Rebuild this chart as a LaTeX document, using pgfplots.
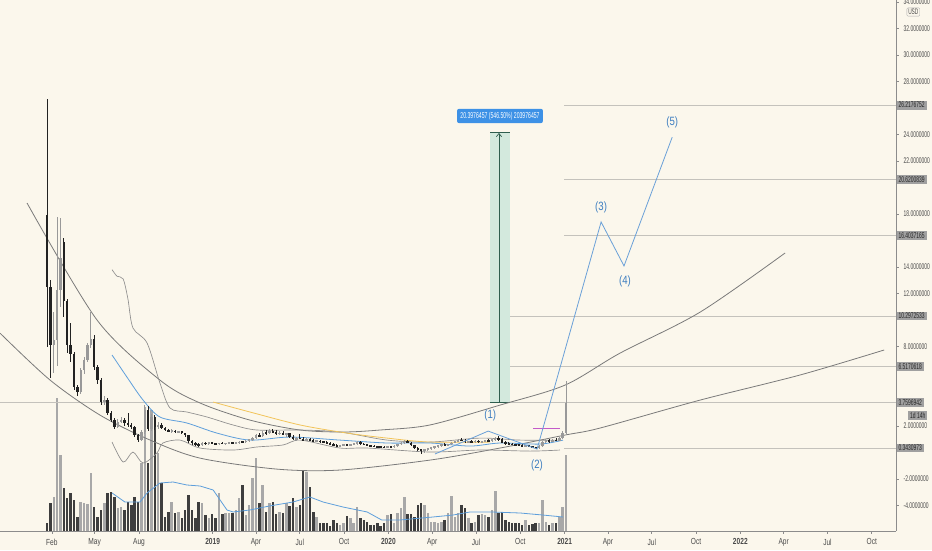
\documentclass[border=0pt]{standalone}
\usepackage{fontspec}
\setmainfont{Liberation Sans}
\newfontfamily\narrow[FakeStretch=0.6]{Liberation Sans}
\newfontfamily\xfont[FakeStretch=0.75]{Liberation Sans}
\newfontfamily\wavefont[FakeStretch=0.8]{Liberation Sans}
\usepackage{pgfplots}
\pgfplotsset{compat=1.18}
\usepackage{pgfplotstable}
\usetikzlibrary{backgrounds,calc,arrows.meta}

\definecolor{bg}{HTML}{FBF7EC}
\definecolor{axisgray}{HTML}{8C8C8C}
\definecolor{ticktext}{HTML}{4A4A4A}
\definecolor{levelline}{HTML}{C4C2BC}
\definecolor{upc}{HTML}{999999}
\definecolor{dnc}{HTML}{222222}
\definecolor{upv}{HTML}{A8A8A8}
\definecolor{dnv}{HTML}{3E3E3E}
\definecolor{arc}{HTML}{7A7A7A}
\definecolor{band}{HTML}{8E8E8E}
\definecolor{mablue}{HTML}{5E9FDB}
\definecolor{maorange}{HTML}{F2C45A}
\definecolor{wave}{HTML}{6AA0D8}
\definecolor{wavetext}{HTML}{3C7DC0}
\definecolor{boxgreen}{HTML}{CFE8DC}
\definecolor{boxline}{HTML}{2F5E4E}
\definecolor{tagblue}{HTML}{3D91E6}
\definecolor{tag}{HTML}{A0A0A0}
\definecolor{violet}{HTML}{C35BC9}

% weekly candles: w = weeks since 22 Jan 2018, volume v in chart units
\pgfplotstableread{
w o h l c v
0 17.9 26.7 8.0 12.5 8
1 12.5 13.0 5.6 8.1 28
2 8.1 10.6 6.0 8.5 34
3 8.5 17.8 6.5 12.3 133
4 12.3 17.7 11.0 14.7 76
5 15.9 16.2 10.2 11.4 43
6 11.4 11.6 7.5 8.1 33
7 8.1 9.8 6.8 7.4 38
8 7.4 7.6 4.7 4.95 31
9 4.95 5.1 4.3 4.55 14
10 4.55 6.4 4.4 6.2 29
11 6.2 7.2 5.9 7.0 28
12 7.0 8.3 6.8 8.1 27
13 8.1 10.6 7.9 8.6 58
14 8.6 8.9 6.2 6.45 24
15 6.45 6.6 5.2 5.47 14
16 5.47 5.6 3.6 3.8 21
17 3.8 4.3 3.6 3.96 28
18 3.96 4.1 2.8 2.98 38
19 2.98 3.1 2.3 2.45 39
20 2.45 2.6 1.8 1.92 34
21 1.92 2.5 1.85 2.3 23
22 2.3 2.7 2.2 2.45 24
23 2.45 2.6 2.0 2.2 21
24 2.2 2.95 1.9 2.1 29
25 2.1 2.2 1.8 1.9 26
26 1.9 2.0 1.2 1.32 34
27 1.32 1.4 0.8 0.94 29
28 0.94 1.7 0.85 1.55 68
29 1.55 3.6 1.4 3.2 124
30 3.2 3.5 1.6 1.8 68
31 1.8 2.9 1.6 2.7 121
32 2.7 2.8 1.7 1.9 114
33 1.9 2.3 1.8 2.1 78
34 2.1 2.2 1.8 1.85 48
35 1.85 1.95 1.6 1.7 14
36 1.7 1.8 1.55 1.6 19
37 1.6 1.75 1.5 1.65 29
38 1.65 1.7 1.5 1.55 18
39 1.55 1.65 1.45 1.6 19
40 1.6 1.65 1.4 1.45 13
41 1.45 1.5 1.2 1.3 21
42 1.3 1.35 0.75 0.85 36
43 0.85 0.95 0.6 0.7 21
44 0.7 0.8 0.5 0.6 13
45 0.6 0.7 0.45 0.55 29
46 0.55 0.8 0.5 0.72 28
47 0.72 0.8 0.6 0.68 16
48 0.68 0.78 0.6 0.74 13
49 0.74 0.8 0.62 0.7 17
50 0.7 0.75 0.6 0.66 13
51 0.66 0.75 0.6 0.72 38
52 0.72 0.78 0.62 0.68 17
53 0.68 0.75 0.6 0.7 18
54 0.7 0.8 0.62 0.75 18
55 0.75 0.82 0.65 0.7 18
56 0.7 0.78 0.62 0.74 21
57 0.74 0.85 0.68 0.8 33
58 0.8 0.9 0.7 0.78 46
59 0.78 0.95 0.72 0.9 16
60 0.9 1.05 0.82 1.0 26
61 1.0 1.2 0.9 1.1 53
62 1.1 1.4 1.0 1.3 73
63 1.3 1.5 1.15 1.25 28
64 1.25 1.6 1.2 1.5 46
65 1.5 1.7 1.35 1.45 19
66 1.45 1.75 1.4 1.6 28
67 1.6 1.8 1.45 1.55 29
68 1.55 1.7 1.35 1.4 17
69 1.4 1.6 1.3 1.5 19
70 1.5 1.6 1.3 1.35 18
71 1.35 1.5 1.2 1.45 28
72 1.45 1.5 1.1 1.2 25
73 1.2 1.3 0.95 1.0 33
74 1.0 1.2 0.9 1.1 24
75 1.1 1.4 1.0 1.05 26
76 1.05 1.15 0.85 0.9 61
77 0.9 1.1 0.85 1.0 59
78 1.0 1.1 0.85 0.92 44
79 0.92 1.0 0.8 0.85 19
80 0.85 0.95 0.78 0.9 14
81 0.9 0.95 0.75 0.8 8
82 0.8 0.9 0.72 0.78 8
83 0.78 0.85 0.65 0.7 8
84 0.7 0.78 0.58 0.6 5
85 0.6 0.7 0.5 0.55 11
86 0.55 0.65 0.45 0.5 8
87 0.5 0.6 0.42 0.56 6
88 0.56 0.65 0.5 0.6 8
89 0.6 0.68 0.5 0.55 15
90 0.55 0.65 0.48 0.6 13
91 0.6 0.7 0.55 0.68 8
92 0.68 0.85 0.6 0.78 24
93 0.78 0.85 0.6 0.65 13
94 0.65 0.72 0.55 0.6 11
95 0.6 0.66 0.48 0.52 9
96 0.52 0.6 0.45 0.48 6
97 0.48 0.55 0.4 0.45 6
98 0.45 0.52 0.38 0.42 8
99 0.42 0.5 0.36 0.4 5
100 0.4 0.48 0.34 0.38 8
101 0.38 0.5 0.33 0.45 16
102 0.45 0.52 0.38 0.42 17
103 0.42 0.55 0.38 0.5 8
104 0.5 0.68 0.45 0.62 18
105 0.62 0.8 0.55 0.75 23
106 0.75 0.95 0.68 0.85 34
107 0.85 0.92 0.7 0.75 17
108 0.75 0.8 0.5 0.55 17
109 0.55 0.6 0.3 0.35 14
110 0.35 0.42 0.15 0.25 26
111 0.25 0.3 -0.12 0.08 28
112 0.08 0.3 -0.05 0.25 26
113 0.25 0.35 0.15 0.3 18
114 0.3 0.42 0.22 0.38 9
115 0.38 0.5 0.3 0.45 9
116 0.45 0.58 0.38 0.52 8
117 0.52 0.65 0.45 0.6 9
118 0.6 0.7 0.5 0.55 11
119 0.55 0.68 0.48 0.62 18
120 0.62 0.8 0.55 0.75 35
121 0.75 0.9 0.7 0.85 14
122 0.85 1.05 0.78 0.95 18
123 0.95 1.1 0.85 0.9 26
124 0.9 1.0 0.75 0.8 23
125 0.8 0.9 0.7 0.85 13
126 0.85 0.95 0.75 0.8 8
127 0.8 0.92 0.72 0.88 9
128 0.88 0.95 0.75 0.8 16
129 0.8 0.9 0.7 0.85 17
130 0.85 0.95 0.78 0.9 16
131 0.9 1.0 0.8 0.85 14
132 0.85 1.05 0.8 1.0 21
133 1.0 1.2 0.9 1.1 40
134 1.1 1.25 0.9 1.0 18
135 1.0 1.1 0.7 0.75 19
136 0.75 0.85 0.6 0.7 11
137 0.7 0.78 0.6 0.65 9
138 0.65 0.72 0.55 0.6 8
139 0.6 0.68 0.5 0.58 8
140 0.58 0.65 0.5 0.55 8
141 0.55 0.62 0.45 0.5 6
142 0.5 0.58 0.42 0.52 11
143 0.52 0.6 0.4 0.45 6
144 0.45 0.52 0.32 0.38 7
145 0.38 0.45 0.25 0.35 8
146 0.35 0.55 0.3 0.5 8
147 0.5 0.9 0.45 0.82 31
148 0.82 1.0 0.7 0.9 9
149 0.9 1.05 0.75 0.85 6
150 0.85 1.0 0.78 0.95 8
151 0.95 1.1 0.85 0.9 8
152 0.9 1.15 0.85 1.08 14
153 1.08 1.6 1.0 1.47 24
154 1.47 5.4 1.3 3.76 76
}\candles

\pgfplotsset{
  chartbox/.style={scale only axis, width=672pt, height=398.25pt,
    xmin=-13.95, xmax=251.9},
  upfilter/.style={restrict expr to domain={\thisrow{c}-\thisrow{o}}{0:1000}},
  dnfilter/.style={restrict expr to domain={\thisrow{c}-\thisrow{o}}{-1000:-0.000001}},
  candle/.style 2 args={draw=none, mark=none, forget plot,
    error bars/y dir=both, error bars/y explicit, error bars/error mark=none,
    error bars/error bar style={draw=#1, line width=#2}},
}
\newcommand\tickfont{\narrow\fontsize{6.2}{7}\selectfont}

\begin{document}
\begin{tikzpicture}

% volume pane
\begin{axis}[chartbox, ymin=0, ymax=531, hide axis]
\addplot[ycomb, draw=upv, line width=1.85pt, upfilter] table[x=w, y=v] {\candles};
\addplot[ycomb, draw=dnv, line width=1.85pt, dnfilter] table[x=w, y=v] {\candles};
\addplot[mablue, line width=0.6pt] coordinates {
 (19.3,38) (23.1,29) (27.6,29) (29.7,38) (33.5,48) (37.4,49) (41.5,46)
 (45.4,45) (49.3,41) (53.4,21) (55.2,19) (60.2,21) (66,25) (73,29) (78,34)
 (81.9,29) (87.8,24) (95,19) (99.3,11) (104.7,11) (114.5,14) (120.5,16)
 (125.5,19) (132,19) (140.4,18) (147,16) (153.1,14)};
\end{axis}

% price pane
\begin{axis}[chartbox, name=main,
  ymin=-5.92, ymax=34.15,
  axis x line*=bottom, axis y line*=right,
  axis line style={-, draw=axisgray, line width=0.6pt},
  xtick={1.43,14.14,27.29,49.14,62,75,88.14,101.29,114.29,127.29,140.43,153.57,166.43,179.43,192.57,205.71,218.57,231.57,244.71},
  xticklabels={Feb,May,Aug,\textbf{2019},Apr,Jul,Oct,\textbf{2020},Apr,Jul,Oct,\textbf{2021},Apr,Jul,Oct,\textbf{2022},Apr,Jul,Oct},
  ytick={-4,-2,2,8,12,14,18,22,24,28,30,32,34},
  tick align=outside, major tick length=2.2pt,
  tick style={draw=axisgray, line width=0.5pt},
  ticklabel style={font=\tickfont, text=ticktext},
  xticklabel style={font=\xfont\fontsize{6.6}{7.5}\selectfont},
  yticklabel style={/pgf/number format/fixed, /pgf/number format/fixed zerofill,
    /pgf/number format/precision=7, /pgf/number format/assume math mode=true},
]
% fib levels
\addplot[levelline, line width=0.6pt] coordinates {(-13.95,3.7596942) (251.9,3.7596942)};
\addplot[levelline, line width=0.6pt] coordinates {(153.4,26.2176752) (251.9,26.2176752)};
\addplot[levelline, line width=0.6pt] coordinates {(153.4,20.6200839) (251.9,20.6200839)};
\addplot[levelline, line width=0.6pt] coordinates {(153.4,16.4037165) (251.9,16.4037165)};
\addplot[levelline, line width=0.6pt] coordinates {(137.4,10.2972533) (251.9,10.2972533)};
\addplot[levelline, line width=0.6pt] coordinates {(137.4,6.5170618) (251.9,6.5170618)};
\addplot[levelline, line width=0.6pt] coordinates {(153.4,0.3430973) (251.9,0.3430973)};

% measuring box
\addplot[fill=boxgreen, draw=none, fill opacity=0.9] coordinates {(131.5,3.76) (137.4,3.76) (137.4,24.16) (131.5,24.16)} -- cycle;
\addplot[boxline, line width=0.5pt] coordinates {(131.5,24.16) (137.4,24.16)};
\addplot[boxline, line width=0.9pt] coordinates {(131.5,3.76) (137.4,3.76)};
\addplot[boxline, line width=0.5pt, -{Straight Barb[length=2.5pt,width=4pt]}] coordinates {(134.1,3.76) (134.1,24.12)};

% parabolic arcs
\addplot[arc, line width=0.6pt, smooth] coordinates {
 (-5.93,18.83) (14.84,10.0) (33.5,5.47) (45.4,3.74) (60.2,2.45) (75.1,1.70)
 (87.8,1.55) (98.8,1.70) (113.6,2.08) (134.4,3.58) (153.7,5.09) (170,7.5)
 (193.8,10.6) (219.0,15.06)};
\addplot[arc, line width=0.6pt, smooth] coordinates {
 (-13.9,9.0) (0.9,5.47) (15.7,2.83) (30.6,0.94) (45.4,-0.42) (68.2,-1.25)
 (86.9,-1.32) (113.6,-0.57) (134.4,0.34) (153.7,1.32) (164.1,1.85)
 (193.8,3.96) (223.4,5.85) (248.4,7.74)};

% bollinger bands
\addplot[band, line width=0.5pt, smooth] coordinates {
 (19.3,13.8) (20.8,13.3) (22.6,13.1) (24,11.6) (25.5,9.4) (29.7,8.26) (33.5,5.25)
 (36.5,3.36) (41.5,3.06) (47.5,2.68) (55.2,2.08) (62.3,1.70) (75.1,1.70)
 (86.9,1.55) (100.9,0.94) (113.6,0.79) (128.5,1.09) (140.4,0.94) (152.2,0.94)};
\addplot[band, line width=0.5pt, smooth] coordinates {
 (19.3,0.79) (22.6,-0.72) (25.5,0.04) (28.5,-0.79) (32.6,-0.04) (34.4,0.72)
 (39.5,0.94) (45.4,0.34) (55.2,0.19) (62.3,0.42) (70,0.57) (75.1,0.94)
 (86.9,0.34) (95,0.34) (113.6,0.04) (128.5,0.19) (143.3,0.11) (152.2,0.19)};

% moving averages
\addplot[maorange, line width=0.6pt, smooth] coordinates {
 (49.3,3.81) (60.2,3.06) (75.1,2.08) (89,1.47) (100.9,1.09) (113.6,0.79) (131.5,0.79)};
\addplot[mablue, line width=0.6pt, smooth] coordinates {
 (19.3,7.36) (23.7,5.70) (28.5,3.96) (33.5,2.68) (41.5,2.23) (50.4,1.47)
 (60.2,0.94) (72.1,1.17) (86.9,0.94) (100.9,0.72) (113.6,0.72) (125.5,0.49)
 (134.4,0.72) (146.3,0.64) (153.1,0.94)};

% candles: wicks and bodies
\addplot[candle={upc}{0.6pt}, upfilter]
  table[x=w, y expr={(\thisrow{h}+\thisrow{l})/2}, y error expr={(\thisrow{h}-\thisrow{l})/2}] {\candles};
\addplot[candle={dnc}{0.6pt}, dnfilter]
  table[x=w, y expr={(\thisrow{h}+\thisrow{l})/2}, y error expr={(\thisrow{h}-\thisrow{l})/2}] {\candles};
\addplot[candle={upc}{1.8pt}, upfilter]
  table[x=w, y expr={(\thisrow{o}+\thisrow{c})/2}, y error expr={max(abs(\thisrow{c}-\thisrow{o})/2,0.05)}] {\candles};
\addplot[candle={dnc}{1.8pt}, dnfilter]
  table[x=w, y expr={(\thisrow{o}+\thisrow{c})/2}, y error expr={max(abs(\thisrow{c}-\thisrow{o})/2,0.05)}] {\candles};

\addplot[violet, line width=0.6pt] coordinates {(144.2,1.85) (152.2,1.85)};

% wave count
\addplot[wave, line width=0.6pt] coordinates {
 (115.1,-0.11) (130.9,1.62) (145.4,0.26) (164.4,17.4) (171.2,14.08) (185.5,23.8)};
\begin{scope}[every node/.style={text=wavetext, font=\wavefont\fontsize{9}{10}\selectfont, inner sep=0pt}]
\node at (axis cs:131.5,2.83) {(1)};
\node at (axis cs:145.4,-0.94) {(2)};
\node at (axis cs:164.4,18.5) {(3)};
\node at (axis cs:171.5,12.9) {(4)};
\node at (axis cs:185.5,24.9) {(5)};
\end{scope}

\node[fill=tagblue, text=white, rounded corners=1.5pt, inner xsep=2.5pt, inner ysep=2.4pt,
  font=\narrow\fontsize{6.4}{7}\selectfont] at (axis cs:134.4,25.4) {20.3976457 (546.50\%) 203976457};

\coordinate (F1) at (axis cs:251.9,26.2176752);
\coordinate (F2) at (axis cs:251.9,20.6200839);
\coordinate (F3) at (axis cs:251.9,16.4037165);
\coordinate (F4) at (axis cs:251.9,10.2972533);
\coordinate (F5) at (axis cs:251.9,6.5170618);
\coordinate (F6) at (axis cs:251.9,3.7596942);
\coordinate (F7) at (axis cs:251.9,0.3430973);
\end{axis}

\begin{scope}[every node/.style={fill=tag, text=black!85, font=\tickfont,
  inner xsep=1.4pt, inner ysep=1.1pt, anchor=west}]
\node at ($(F1)+(0.3pt,0)$) {26.2176752};
\node at ($(F2)+(0.3pt,0)$) {20.6200839};
\node at ($(F3)+(0.3pt,0)$) {16.4037165};
\node at ($(F4)+(0.3pt,0)$) {10.2972533};
\node at ($(F5)+(0.3pt,0)$) {6.5170618};
\node at ($(F6)+(0.3pt,0)$) {3.7596942};
\node at ($(F6)+(9pt,-9.8pt)$) {1d 14h};
\node at ($(F7)+(0.3pt,0)$) {0.3430973};
\end{scope}
\node[draw=axisgray!70, fill=bg, line width=0.3pt, rounded corners=0.8pt, inner sep=1pt,
  text=ticktext, font=\narrow\fontsize{6}{6.5}\selectfont] at ($(main.north east)+(13pt,-9pt)$) {USD};

\begin{pgfonlayer}{background}
\fill[bg] ($(main.south west)+(0,-14.25pt)$) rectangle ($(main.north east)+(27pt,0)$);
\end{pgfonlayer}
\pgfresetboundingbox
\path[use as bounding box] ($(main.south west)+(0,-14.25pt)$) rectangle ($(main.north east)+(27pt,0)$);
\end{tikzpicture}
\end{document}
